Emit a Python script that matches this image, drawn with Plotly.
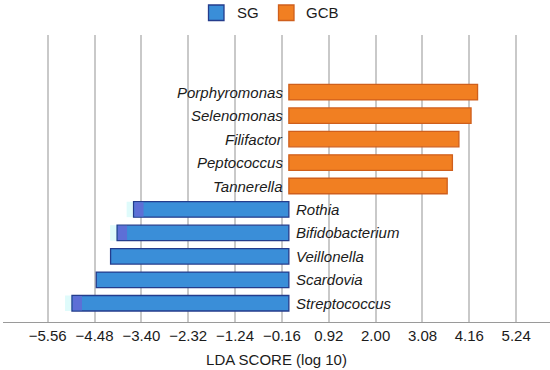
import plotly.graph_objects as go

# ---- data ----
gcb_taxa = ["Porphyromonas", "Selenomonas", "Filifactor", "Peptococcus", "Tannerella"]
gcb_lda = [4.35, 4.20, 3.92, 3.77, 3.65]
sg_taxa = ["Rothia", "Bifidobacterium", "Veillonella", "Scardovia", "Streptococcus"]
sg_lda = [-3.58, -3.96, -4.11, -4.44, -5.00]
sg_tip = [True, True, False, False, True]   # bars showing a shaded left tip in the original
tick_values = [-5.56, -4.48, -3.40, -2.32, -1.24, -0.16, 0.92, 2.00, 3.08, 4.16, 5.24]

W, H = 550, 370
ML, MR, MT, MB = 3, 0, 35, 48
PW, PH = W - ML - MR, H - MT - MB

def px_x(p):
    return (p - ML) / PW

def px_y(p):
    return (H - MB - p) / PH

BLUE, BLUE_LINE = "#3a8ed8", "#243c8c"
ORANGE, ORANGE_LINE = "#f17f22", "#cf5f1c"
TIP, GLOW = "#5d6fd6", "#dffbfb"
FONT = "Liberation Sans, Arial, sans-serif"
TXT = "#1b1b1b"

gcb_pos = list(range(len(gcb_taxa)))
sg_pos = [len(gcb_taxa) + i for i in range(len(sg_taxa))]
tip_pos = [p for p, f in zip(sg_pos, sg_tip) if f]
tip_base = [v for v, f in zip(sg_lda, sg_tip) if f]

fig = go.Figure()
# soft glow left of the shaded tips
fig.add_trace(go.Bar(
    x=[0.16] * len(tip_pos), base=[b - 0.16 for b in tip_base], y=tip_pos,
    orientation="h", width=0.66, marker=dict(color=GLOW, line=dict(width=0)),
    showlegend=False, hoverinfo="skip",
))
fig.add_trace(go.Bar(
    x=gcb_lda, y=gcb_pos, orientation="h", width=0.66, name="GCB",
    marker=dict(color=ORANGE, line=dict(color=ORANGE_LINE, width=1.3)),
    showlegend=False,
))
fig.add_trace(go.Bar(
    x=sg_lda, y=sg_pos, orientation="h", width=0.66, name="SG",
    marker=dict(color=BLUE, line=dict(color=BLUE_LINE, width=1.3)),
    showlegend=False,
))
fig.add_trace(go.Bar(
    x=[0.21] * len(tip_pos), base=[b + 0.02 for b in tip_base], y=tip_pos,
    orientation="h", width=0.61, marker=dict(color=TIP, line=dict(width=0)),
    showlegend=False, hoverinfo="skip",
))

ann = []
for t, p in zip(gcb_taxa, gcb_pos):
    ann.append(dict(x=0, y=p, xref="x", yref="y", text=t, showarrow=False,
                    xanchor="right", yanchor="middle", xshift=-4,
                    font=dict(family=FONT, size=15, color=TXT, style="italic")))
for t, p in zip(sg_taxa, sg_pos):
    ann.append(dict(x=0, y=p, xref="x", yref="y", text=t, showarrow=False,
                    xanchor="left", yanchor="middle", xshift=5,
                    font=dict(family=FONT, size=15, color=TXT, style="italic")))

# legend (manual)
shapes = []
legend_items = [("SG", BLUE, BLUE_LINE, 208.5, 235), ("GCB", ORANGE, ORANGE_LINE, 278.5, 304)]
for name, fc, lc, sx, tx in legend_items:
    shapes.append(dict(type="rect", xref="paper", yref="paper",
                       x0=px_x(sx), x1=px_x(sx + 15.5), y0=px_y(20.5), y1=px_y(5),
                       fillcolor=fc, line=dict(color=lc, width=1.3)))
    ann.append(dict(x=px_x(tx), y=px_y(12.5), xref="paper", yref="paper", text=name,
                    showarrow=False, xanchor="left", yanchor="middle",
                    font=dict(family=FONT, size=15, color=TXT)))

fig.update_layout(
    width=W, height=H,
    margin=dict(l=ML, r=MR, t=MT, b=MB, autoexpand=False),
    paper_bgcolor="white", plot_bgcolor="white",
    barmode="overlay",
    annotations=ann, shapes=shapes,
    font=dict(family=FONT, size=15, color=TXT),
)
fig.update_xaxes(
    range=[-6.59, 6.02],
    tickvals=tick_values,
    ticktext=[("\u2212%.2f" % abs(v)) if v < 0 else "%.2f" % v for v in tick_values],
    showgrid=True, gridcolor="#c9c9c9", gridwidth=1.6,
    zeroline=False, showline=True, linecolor="#9a9a9a", linewidth=1,
    ticks="", tickfont=dict(size=15, color=TXT), automargin=False,
    title=dict(text="LDA SCORE (log 10)", font=dict(size=15, color=TXT), standoff=11),
)
fig.update_yaxes(
    range=[9.8, -2.44], showticklabels=False, showgrid=False, zeroline=False,
    showline=False, ticks="", automargin=False,
)

fig.write_html("out.html", config={"displayModeBar": False},
               post_script="document.body.style.margin='0';document.body.style.overflow='hidden';")
